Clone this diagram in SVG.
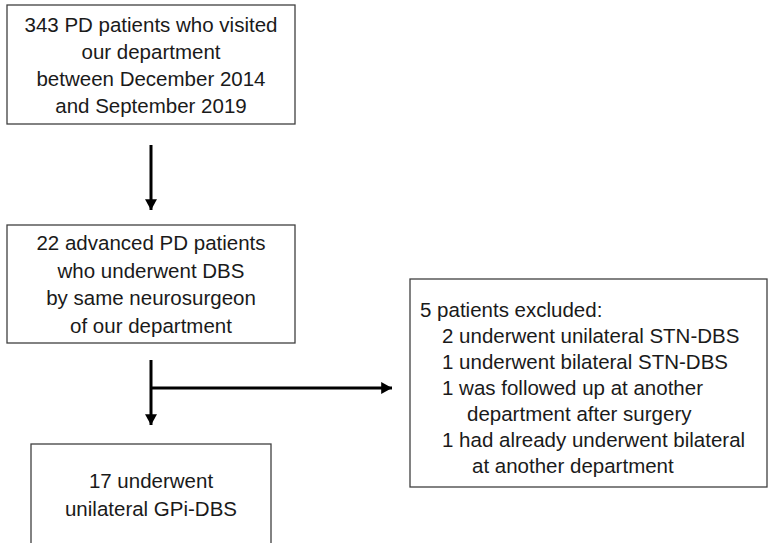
<svg xmlns="http://www.w3.org/2000/svg" width="768" height="543" viewBox="0 0 768 543">
<defs>
<style>
.box{fill:#fff;stroke:#404040;stroke-width:1.3}
.t{font-family:"Liberation Sans",Arial,sans-serif;font-size:20.5px;fill:#1a1a1a}
.c{text-anchor:middle}
.ln{stroke:#000;stroke-width:3;fill:none}
</style>
<marker id="ah" markerWidth="4" markerHeight="4" refX="3.6" refY="2" orient="auto" markerUnits="strokeWidth">
<path d="M0,0 L3.6,2 L0,4 Z" fill="#000"/>
</marker>
</defs>
<rect width="768" height="543" fill="#fff"/>
<g id="n1">
<rect class="box" x="7" y="5" width="288" height="119"/>
<text class="t c" x="151" y="32">343 PD patients who visited</text>
<text class="t c" x="151" y="59">our department</text>
<text class="t c" x="151" y="86">between December 2014</text>
<text class="t c" x="151" y="113">and September 2019</text>
</g>
<g id="n2">
<rect class="box" x="7" y="225" width="288" height="118"/>
<text class="t c" x="151" y="250">22 advanced PD patients</text>
<text class="t c" x="151" y="278">who underwent DBS</text>
<text class="t c" x="151" y="305">by same neurosurgeon</text>
<text class="t c" x="151" y="333">of our department</text>
</g>
<g id="n3">
<rect class="box" x="410" y="279" width="357" height="208"/>
<text class="t" x="420" y="317">5 patients excluded:</text>
<text class="t" x="442" y="343">2 underwent unilateral STN-DBS</text>
<text class="t" x="442" y="369">1 underwent bilateral STN-DBS</text>
<text class="t" x="442" y="395">1 was followed up at another</text>
<text class="t" x="467" y="421">department after surgery</text>
<text class="t" x="442" y="447">1 had already underwent bilateral</text>
<text class="t" x="472" y="473">at another department</text>
</g>
<g id="n4">
<rect class="box" x="31" y="444" width="240" height="110"/>
<text class="t c" x="151" y="488">17 underwent</text>
<text class="t c" x="151" y="516">unilateral GPi-DBS</text>
</g>
<g id="connectors">
<line class="ln" x1="151" y1="145" x2="151" y2="210" marker-end="url(#ah)"/>
<line class="ln" x1="151" y1="360" x2="151" y2="425" marker-end="url(#ah)"/>
<line class="ln" x1="151" y1="388" x2="392" y2="388" marker-end="url(#ah)"/>
</g>
</svg>
